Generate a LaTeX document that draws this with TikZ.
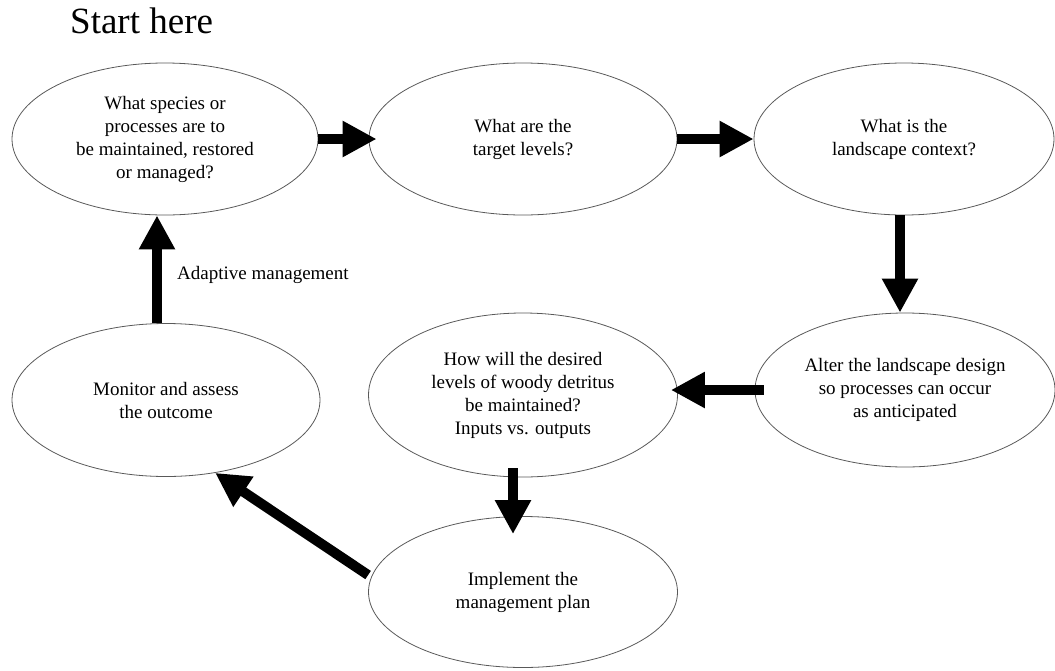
\documentclass[tikz,border=0pt]{standalone}
\usepackage{fontspec}
\setmainfont{Liberation Serif}
\usetikzlibrary{shapes.geometric,arrows.meta,calc}
\tikzset{
  oval/.style={ellipse, draw=black!65, line width=0.8pt, inner sep=0pt, align=center,
    font=\fontsize{19}{23}\selectfont},
  bigarrow/.style={line width=10pt, -{Triangle[length=34pt,width=34pt]}},
  lbl/.style={font=\fontsize{19}{23}\selectfont, inner sep=0pt}
}
\begin{document}
\begin{tikzpicture}[x=1pt,y=-1pt]
\useasboundingbox (0,0) rectangle (1055,670);
\node[inner sep=0pt, anchor=base west, font=\fontsize{37}{40}\selectfont] (start) at (70,33) {Start here};

\node[oval, minimum width=306pt, minimum height=152pt] (e1) at (165,139)
  {What species or\\processes are to\\be maintained, restored\\or managed?};
\node[oval, minimum width=308pt, minimum height=152pt] (e2) at (523,139)
  {What are the\\target levels?};
\node[oval, minimum width=300pt, minimum height=152pt] (e3) at (904,139)
  {What is the\\landscape context?};
\node[oval, minimum width=300pt, minimum height=154pt] (e4) at (905,390)
  {Alter the landscape design\\so processes can occur\\as anticipated};
\node[oval, minimum width=309pt, minimum height=164pt] (e5) at (523,395)
  {How will the desired\\levels of woody detritus\\be maintained?\\Inputs vs. outputs};
\node[oval, minimum width=308pt, minimum height=153pt] (e6) at (166,400)
  {Monitor and assess\\the outcome};
\node[oval, minimum width=309pt, minimum height=151pt] (e7) at (523,592)
  {Implement the\\management plan};

\draw[bigarrow] (e1.east) -- ($(e2.west)+(8,0)$);
\draw[bigarrow] (e2.east) -- (e3.west);
\draw[bigarrow] ($(e3.south)+(-4,0)$) -- ($(e4.north)+(-5,0)$);
\draw[bigarrow] ($(e4.west)+(9,0)$) -- ($(e5.east)+(-7,-5)$);
\draw[bigarrow] ($(e5.south)+(-10,-9)$) -- ($(e7.north)+(-10,18)$);
\draw[bigarrow] ($(e7.west)+(0,-17)$) -- (e6.-56);
\draw[bigarrow] ($(e6.north)+(-9,0)$) -- ($(e1.south)+(-8,0)$);

\node[lbl, anchor=west] (adapt) at (177,275) {Adaptive management};
\end{tikzpicture}
\end{document}
